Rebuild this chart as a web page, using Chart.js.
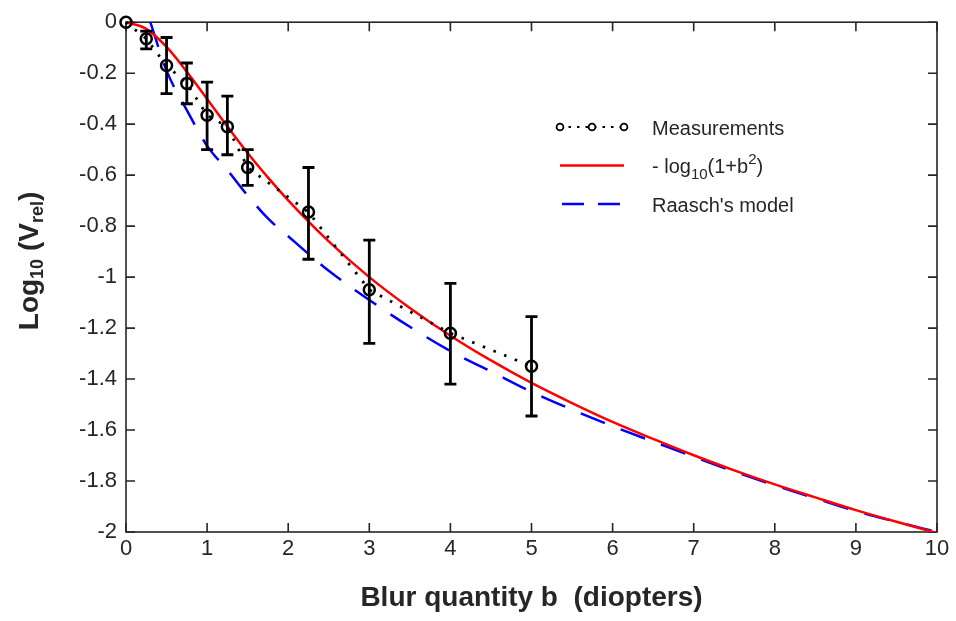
<!DOCTYPE html>
<html><head><meta charset="utf-8">
<script src="https://cdn.jsdelivr.net/npm/chart.js@4"></script>
<style>html,body{margin:0;padding:0;background:#fff}#wrap{width:956px;height:621px;position:relative}</style>
</head><body><div id="wrap"><canvas id="c" width="956" height="621"></canvas></div>
<script>
// ---- data ----
const measB    = [0, 0.25, 0.5, 0.75, 1, 1.25, 1.5, 2.25, 3, 4, 5];
const measV    = [0, -0.065, -0.17, -0.24, -0.365, -0.41, -0.57, -0.745, -1.05, -1.22, -1.35];
const measHigh = [0, -0.035, -0.06, -0.16, -0.235, -0.29, -0.50, -0.57, -0.855, -1.025, -1.155];
const measLow  = [0, -0.105, -0.28, -0.32, -0.50, -0.52, -0.64, -0.93, -1.26, -1.42, -1.545];

const logB = [0, 0.25, 0.5, 0.75, 1, 1.25, 1.5, 1.75, 2, 2.5, 3, 3.5, 4, 4.5, 5, 5.5, 6, 6.5, 7, 7.5, 8, 8.5, 9, 9.5, 10];
const logV = [0, -0.026, -0.097, -0.194, -0.301, -0.409, -0.513, -0.609, -0.699, -0.860, -1.0, -1.121, -1.230, -1.327, -1.415, -1.494, -1.568, -1.635, -1.699, -1.758, -1.813, -1.864, -1.914, -1.960, -2.004];

const raaschB = [0.3, 0.5, 0.75, 1, 1.25, 1.5, 1.75, 2, 2.5, 3, 3.5, 4, 4.5, 5, 5.5, 6, 6.5, 7, 7.5, 8, 8.5, 9, 9.5, 10];
const raaschV = [0, -0.19, -0.345, -0.485, -0.58, -0.68, -0.77, -0.84, -0.975, -1.09, -1.195, -1.29, -1.37, -1.45, -1.52, -1.585, -1.645, -1.705, -1.763, -1.817, -1.868, -1.918, -1.96, -2.0];

const xTicks = [0, 1, 2, 3, 4, 5, 6, 7, 8, 9, 10];
const xTickLabels = ['0', '1', '2', '3', '4', '5', '6', '7', '8', '9', '10'];
const yTicks = [0, -0.2, -0.4, -0.6, -0.8, -1, -1.2, -1.4, -1.6, -1.8, -2];
const yTickLabels = ['0', '-0.2', '-0.4', '-0.6', '-0.8', '-1', '-1.2', '-1.4', '-1.6', '-1.8', '-2'];

const FONT = "'Liberation Sans', Arial, sans-serif";
const TXT = '#262626';

const frame = {
  id: 'frame',
  beforeDatasetsDraw(chart) {
    const {ctx, chartArea: a, scales: {x, y}} = chart;
    ctx.save();
    ctx.strokeStyle = TXT; ctx.lineWidth = 1.6;
    ctx.strokeRect(a.left, a.top, a.right - a.left, a.bottom - a.top);
    const tl = 9;
    ctx.beginPath();
    xTicks.forEach(v => { const p = x.getPixelForValue(v);
      ctx.moveTo(p, a.bottom); ctx.lineTo(p, a.bottom - tl);
      ctx.moveTo(p, a.top); ctx.lineTo(p, a.top + tl); });
    yTicks.forEach(v => { const p = y.getPixelForValue(v);
      ctx.moveTo(a.left, p); ctx.lineTo(a.left + tl, p);
      ctx.moveTo(a.right, p); ctx.lineTo(a.right - tl, p); });
    ctx.stroke();
    ctx.restore();
  }
};

const errBars = {
  id: 'errBars',
  afterDatasetsDraw(chart) {
    const {ctx, scales: {x, y}} = chart;
    ctx.save();
    ctx.strokeStyle = '#000'; ctx.lineWidth = 2.8; ctx.setLineDash([]);
    measB.forEach((b, i) => {
      if (measHigh[i] === measLow[i]) return;
      const px = x.getPixelForValue(b);
      const yt = y.getPixelForValue(measHigh[i]);
      const yb = y.getPixelForValue(measLow[i]);
      const c = 6;
      ctx.beginPath();
      ctx.moveTo(px, yt); ctx.lineTo(px, yb);
      ctx.moveTo(px - c, yt); ctx.lineTo(px + c, yt);
      ctx.moveTo(px - c, yb); ctx.lineTo(px + c, yb);
      ctx.stroke();
    });
    ctx.restore();
  }
};

function drawParts(ctx, parts, x0, yBase) {
  let xx = x0;
  parts.forEach(p => {
    ctx.font = p.f;
    ctx.fillText(p.t, xx, yBase + (p.dy || 0));
    xx += ctx.measureText(p.t).width;
  });
  return xx;
}
function partsWidth(ctx, parts) {
  let w = 0;
  parts.forEach(p => { ctx.font = p.f; w += ctx.measureText(p.t).width; });
  return w;
}

const extras = {
  id: 'extras',
  afterDraw(chart) {
    const ctx = chart.ctx;
    ctx.save();
    ctx.fillStyle = TXT;
    ctx.textBaseline = 'alphabetic';
    ctx.textAlign = 'left';
    // y-axis title
    const big = "bold 28px " + FONT, sub = "bold 18px " + FONT;
    const yParts = [
      {t: 'Log', f: big}, {t: '10', f: sub, dy: 5}, {t: ' (', f: big},
      {t: 'V', f: big}, {t: 'rel', f: sub, dy: 5}, {t: ')', f: big}
    ];
    ctx.save();
    ctx.translate(28, 261);
    ctx.rotate(-Math.PI / 2);
    const w = partsWidth(ctx, yParts);
    drawParts(ctx, yParts, -w / 2, 10);
    ctx.restore();

    // legend
    const lx0 = 560, lx1 = 624, tx = 652;
    const rows = [127, 165.5, 204];
    ctx.save();
    ctx.strokeStyle = '#000'; ctx.lineWidth = 2.2; ctx.setLineDash([2.5, 6]);
    ctx.beginPath(); ctx.moveTo(lx0, rows[0]); ctx.lineTo(lx1, rows[0]); ctx.stroke();
    ctx.setLineDash([]); ctx.lineWidth = 1.8;
    [lx0, (lx0 + lx1) / 2, lx1].forEach(px => {
      ctx.beginPath(); ctx.fillStyle = '#fff'; ctx.arc(px, rows[0], 3.4, 0, Math.PI * 2); ctx.fill(); ctx.stroke();
    });
    ctx.strokeStyle = '#ff0000'; ctx.lineWidth = 2.5;
    ctx.beginPath(); ctx.moveTo(lx0, rows[1]); ctx.lineTo(lx1, rows[1]); ctx.stroke();
    ctx.strokeStyle = '#0000ff'; ctx.setLineDash([22, 14]);
    ctx.beginPath(); ctx.moveTo(lx0 + 2, rows[2]); ctx.lineTo(lx1, rows[2]); ctx.stroke();
    ctx.restore();

    const reg = "20px " + FONT, small = "15px " + FONT;
    ctx.fillStyle = TXT;
    drawParts(ctx, [{t: 'Measurements', f: reg}], tx, 135);
    drawParts(ctx, [{t: '- log', f: reg}, {t: '10', f: small, dy: 6}, {t: '(1+b', f: reg}, {t: '2', f: small, dy: -9}, {t: ')', f: reg}], tx, 173);
    drawParts(ctx, [{t: "Raasch's model", f: reg}], tx, 211.5);
    ctx.restore();
  }
};

const pts = (xs, ys) => xs.map((v, i) => ({x: v, y: ys[i]}));

new Chart(document.getElementById('c').getContext('2d'), {
  type: 'scatter',
  data: {
    datasets: [
      {label: "Raasch's model", data: pts(raaschB, raaschV), showLine: true,
       borderColor: '#0000ff', borderWidth: 2.5, borderDash: [26, 17], pointRadius: 0,
       cubicInterpolationMode: 'monotone', order: 3},
      {label: '- log10(1+b^2)', data: pts(logB, logV), showLine: true,
       borderColor: '#ff0000', borderWidth: 2.5, pointRadius: 0,
       cubicInterpolationMode: 'monotone', order: 2},
      {label: 'Measurements', data: pts(measB, measV), showLine: true,
       borderColor: '#000', borderWidth: 2.8, borderDash: [2.5, 9],
       pointRadius: 5.5, pointBorderWidth: 2.5, pointBorderColor: '#000',
       pointBackgroundColor: 'rgba(0,0,0,0)', clip: false, order: 1}
    ]
  },
  options: {
    responsive: false, animation: false, devicePixelRatio: 1,
    layout: {padding: {left: 0, right: 19, top: 17, bottom: 0}},
    plugins: {legend: {display: false}, tooltip: {enabled: false}},
    scales: {
      x: {
        type: 'linear', min: 0, max: 10,
        afterFit: s => { s.height = 89; },
        afterBuildTicks: s => { s.ticks = xTicks.map(v => ({value: v})); },
        grid: {display: false, drawTicks: false}, border: {display: false},
        ticks: {font: {family: FONT, size: 22}, color: TXT, padding: 4, maxRotation: 0,
                callback: (v, i) => xTickLabels[i]},
        title: {display: true, text: 'Blur quantity b  (diopters)', color: TXT,
                font: {family: FONT, size: 28, weight: 'bold'}, padding: {top: 0, bottom: 6}}
      },
      y: {
        type: 'linear', min: -2, max: 0,
        afterFit: s => { s.width = 126; },
        afterBuildTicks: s => { s.ticks = yTicks.map(v => ({value: v})); },
        grid: {display: false, drawTicks: false}, border: {display: false},
        ticks: {font: {family: FONT, size: 22}, color: TXT, padding: 9,
                callback: (v, i) => yTickLabels[i]}
      }
    }
  },
  plugins: [frame, errBars, extras]
});
</script>
</body></html>
